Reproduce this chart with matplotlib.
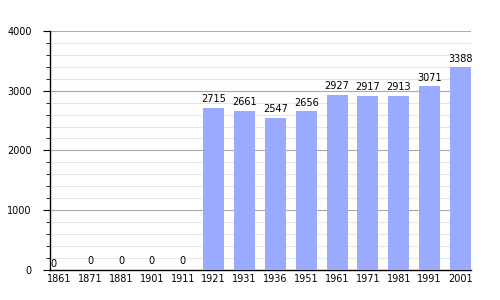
import matplotlib
matplotlib.use("Agg")
import matplotlib.pyplot as plt
from matplotlib.ticker import MultipleLocator

years = ["1861", "1871", "1881", "1901", "1911", "1921", "1931",
		 "1936", "1951", "1961", "1971", "1981", "1991", "2001"]
population = [0, 0, 0, 0, 0, 2715, 2661, 2547, 2656, 2927, 2917, 2913, 3071, 3388]


fig = plt.figure(figsize=(5, 3), dpi=100)
ax = fig.add_axes([0.1, 0.1, 0.842, 0.797])

x = range(len(years))
ax.bar(x, population, width=0.68, color="#99aaff", zorder=3)

for i, v in enumerate(population):
	if i == 0:
		ax.text(-0.28, v + 20, str(v), ha="left", va="bottom", fontsize=7, zorder=4)
	else:
		ax.text(i, v + 60, str(v), ha="center", va="bottom", fontsize=7, zorder=4)

ax.set_xlim(-0.3, 13.34)
ax.set_ylim(0, 4000)
ax.set_xticks(list(x))
ax.set_xticklabels(years, fontsize=7)
ax.tick_params(axis="x", length=0, pad=3)

ax.yaxis.set_major_locator(MultipleLocator(1000))
ax.yaxis.set_minor_locator(MultipleLocator(200))
ax.tick_params(axis="y", which="major", length=5, labelsize=7, pad=8)
ax.tick_params(axis="y", which="minor", length=3)
ax.grid(axis="y", which="minor", color="#e6e6e6", linewidth=0.8, zorder=0)
ax.grid(axis="y", which="major", color="#aaaaaa", linewidth=0.8, zorder=1)

for side in ["top", "right"]:
	ax.spines[side].set_visible(False)
ax.spines["left"].set_linewidth(1)
ax.spines["bottom"].set_linewidth(1)

fig.savefig("out.png", dpi=100)
